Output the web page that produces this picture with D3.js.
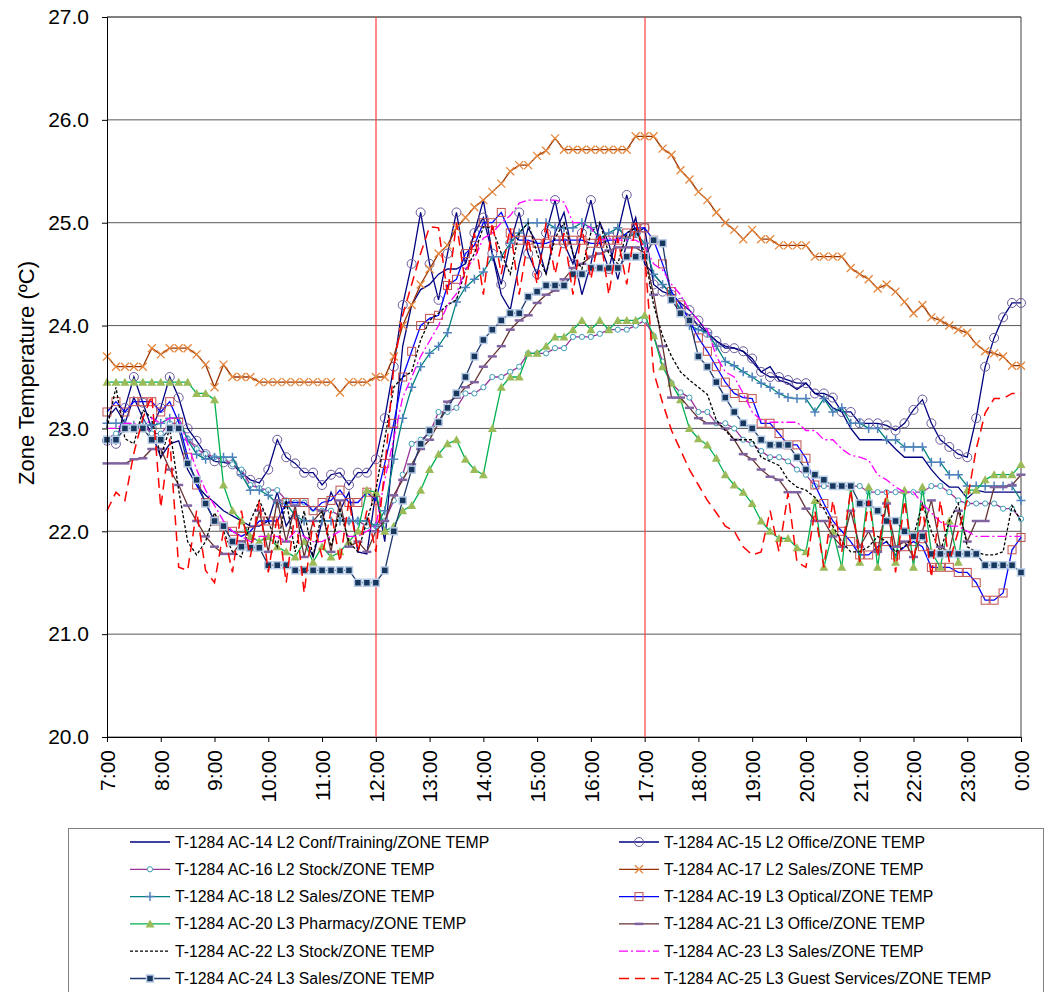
<!DOCTYPE html>
<html>
<head>
<meta charset="utf-8">
<script src="https://cdn.jsdelivr.net/npm/d3@7"></script>
<style>
  body { margin: 0; background: #fff; }
  text { font-family: "Liberation Sans", Arial, sans-serif; fill: #000; }
</style>
</head>
<body>
<svg id="chart" width="1048" height="992"></svg>
<script>
// readings every 10 minutes, 7:00 -> 0:00
const times = d3.range(103).map(i => 420 + i * 10)
const hourTicks = d3.range(7, 25).map(h => h * 60)
const tickLabels = ["7:00","8:00","9:00","10:00","11:00","12:00","13:00","14:00","15:00",
  "16:00","17:00","18:00","19:00","20:00","21:00","22:00","23:00","0:00"]
const yTicks = [20, 21, 22, 23, 24, 25, 26, 27]
const refTimes = [720, 1020]

const ac14 = [23.1,23.2,23.05,23.3,23.1,22.95,22.72,22.85,22.88,22.6,
  22.45,22.35,22.28,22.2,22.15,22.1,22.05,22.05,22.1,22.38,
  22.05,22.2,21.95,21.75,22.1,22.38,22.2,22.38,21.8,21.78,
  22.38,21.9,22.9,23.8,24.2,24.35,24.4,24.5,24.55,24.55,
  24.6,24.9,25.22,24.7,24.3,24.15,24.6,24.95,24.8,24.5,
  24.9,25.1,24.7,24.3,24.6,25.0,24.8,24.45,24.8,25.05,
  24.6,24.5,24.4,24.3,24.15,24.1,24.0,23.93,23.85,23.8,
  23.78,23.75,23.65,23.55,23.6,23.47,23.44,23.38,23.44,23.34,
  23.3,23.2,23.16,23.0,22.89,22.89,22.89,22.89,22.8,22.72,
  22.72,22.72,22.6,22.5,22.43,22.43,22.32,22.4,22.38,22.38,
  22.38,22.38,22.38]
const ac15 = [22.88,22.85,23.2,23.5,23.25,23.0,23.2,23.5,23.3,23.0,
  22.88,22.75,22.68,22.67,22.65,22.57,22.5,22.47,22.6,22.89,
  22.72,22.66,22.57,22.57,22.45,22.55,22.57,22.45,22.57,22.57,
  22.7,23.1,23.6,24.2,24.6,25.1,24.6,24.25,24.7,25.1,
  24.6,24.9,25.05,24.7,24.4,24.8,25.1,24.7,24.5,24.9,
  25.22,24.8,24.6,24.9,25.22,24.8,24.55,24.9,25.27,24.9,
  24.95,24.4,24.33,24.3,24.22,24.15,24.05,23.93,23.85,23.78,
  23.78,23.75,23.68,23.55,23.5,23.5,23.47,23.44,23.44,23.34,
  23.34,23.3,23.16,23.16,23.05,23.05,23.05,23.03,22.98,23.05,
  23.18,23.28,23.05,22.89,22.82,22.75,22.72,23.1,23.6,23.88,
  24.08,24.22,24.22]
const ac16 = [22.9,22.95,23.0,23.0,23.05,22.95,22.95,23.05,23.05,22.9,
  22.8,22.75,22.72,22.7,22.65,22.6,22.45,22.42,22.4,22.4,
  22.3,22.28,22.28,22.22,22.2,22.2,22.15,22.1,22.1,22.05,
  22.05,22.1,22.3,22.55,22.85,22.89,22.95,23.16,23.16,23.2,
  23.34,23.34,23.4,23.5,23.5,23.55,23.6,23.73,23.73,23.73,
  23.78,23.78,23.89,23.89,23.89,23.92,23.96,23.96,23.96,24.0,
  24.05,23.9,23.65,23.44,23.35,23.3,23.16,23.16,23.05,23.05,
  23.0,22.89,22.85,22.78,22.72,22.72,22.68,22.6,22.55,22.44,
  22.44,22.44,22.44,22.44,22.44,22.38,22.38,22.38,22.38,22.38,
  22.38,22.38,22.44,22.44,22.38,22.3,22.27,22.27,22.27,22.27,
  22.22,22.22,22.12]
const ac17 = [23.7,23.6,23.6,23.6,23.6,23.78,23.72,23.78,23.78,23.78,
  23.72,23.62,23.4,23.62,23.5,23.5,23.5,23.45,23.45,23.45,
  23.45,23.45,23.45,23.45,23.45,23.45,23.35,23.45,23.45,23.45,
  23.5,23.5,23.7,24.0,24.2,24.4,24.55,24.7,24.78,24.95,
  25.05,25.15,25.22,25.3,25.38,25.5,25.56,25.56,25.65,25.7,
  25.82,25.71,25.71,25.71,25.71,25.71,25.71,25.71,25.71,25.84,
  25.84,25.84,25.72,25.66,25.51,25.42,25.3,25.22,25.1,25.0,
  24.93,24.84,24.93,24.84,24.84,24.78,24.78,24.78,24.78,24.67,
  24.67,24.67,24.67,24.56,24.5,24.45,24.36,24.4,24.33,24.23,
  24.12,24.2,24.08,24.05,24.0,23.96,23.93,23.82,23.75,23.73,
  23.7,23.61,23.61]
const ac18 = [23.05,23.05,23.05,23.03,23.03,23.03,23.05,23.1,23.1,22.89,
  22.75,22.7,22.72,22.72,22.72,22.55,22.4,22.4,22.35,22.27,
  22.27,22.15,22.1,22.1,22.1,22.1,22.1,22.1,22.1,22.1,
  22.05,22.2,22.7,23.1,23.4,23.6,23.73,23.8,23.93,24.23,
  24.37,24.45,24.52,24.67,24.67,24.8,24.9,25.0,25.0,25.0,
  24.95,24.95,24.95,25.0,24.95,24.85,24.9,24.95,24.85,24.9,
  24.8,24.5,24.4,24.3,24.15,24.0,23.96,23.93,23.8,23.65,
  23.61,23.55,23.5,23.44,23.4,23.34,23.3,23.29,23.29,23.16,
  23.29,23.16,23.2,23.05,23.05,23.0,23.0,22.89,22.89,22.82,
  22.82,22.82,22.67,22.67,22.55,22.55,22.44,22.44,22.44,22.44,
  22.44,22.44,22.3]
const ac19 = [23.16,23.26,23.16,23.26,23.26,23.26,23.16,23.26,23.06,22.72,
  22.45,22.28,22.1,22.05,22.0,21.95,22.0,22.1,22.1,22.1,
  22.28,22.28,22.28,22.2,22.28,22.3,22.4,22.28,22.28,22.38,
  22.3,22.66,23.05,23.5,23.75,24.0,24.07,24.1,24.39,24.45,
  24.7,24.78,25.0,25.0,25.1,24.9,24.83,24.83,24.8,24.8,
  24.83,24.83,24.83,24.83,24.8,24.8,24.83,24.83,24.9,24.95,
  24.95,24.83,24.6,24.33,24.2,24.05,23.88,23.75,23.6,23.45,
  23.34,23.3,23.29,23.05,23.05,22.95,22.84,22.84,22.71,22.45,
  22.27,22.1,22.0,21.9,21.77,21.77,21.85,21.9,21.77,21.85,
  21.9,21.85,21.65,21.65,21.65,21.6,21.6,21.5,21.33,21.33,
  21.4,21.82,21.94]
const ac20 = [23.45,23.45,23.45,23.45,23.45,23.45,23.45,23.45,23.45,23.45,
  23.34,23.34,23.28,22.45,22.2,22.1,21.95,21.9,21.95,21.85,
  21.8,21.75,21.9,21.7,21.85,21.75,21.8,21.9,22.0,22.4,
  22.38,22.0,22.05,22.2,22.25,22.4,22.6,22.75,22.85,22.89,
  22.7,22.6,22.55,23.0,23.4,23.5,23.5,23.73,23.73,23.8,
  23.89,23.89,23.96,24.05,23.96,24.05,23.96,24.05,24.05,24.05,
  24.1,23.9,23.6,23.44,23.28,23.0,22.9,22.84,22.71,22.55,
  22.45,22.38,22.27,22.1,22.0,21.93,21.93,21.84,21.8,22.3,
  21.65,22.0,21.65,22.43,21.7,22.43,21.65,22.3,21.7,22.4,
  21.65,22.43,21.8,21.65,22.1,21.7,22.4,22.4,22.5,22.55,
  22.55,22.55,22.65]
const ac21 = [22.66,22.66,22.66,22.7,22.71,22.8,22.8,22.6,22.45,22.25,
  22.1,21.95,21.85,21.78,21.78,21.9,21.85,22.2,21.8,22.3,
  21.9,22.25,21.75,22.1,22.2,21.8,22.3,21.85,21.9,21.8,
  22.0,22.1,22.35,22.5,22.65,22.8,22.89,23.05,23.26,23.3,
  23.4,23.45,23.6,23.7,23.8,23.96,24.05,24.1,24.22,24.3,
  24.34,24.45,24.56,24.6,24.67,24.7,24.73,24.76,24.76,24.76,
  24.7,24.3,23.8,23.3,23.3,23.2,23.1,23.05,23.05,23.0,
  22.89,22.75,22.7,22.6,22.53,22.5,22.38,22.38,22.22,22.1,
  22.1,21.95,21.85,22.2,21.85,22.0,21.8,22.27,21.85,21.9,
  21.75,22.0,22.3,21.85,21.8,22.2,21.9,22.1,22.1,22.43,
  22.43,22.45,22.55]
const ac22 = [23.0,23.4,22.9,22.85,23.18,23.1,22.72,23.0,22.4,21.9,
  21.77,21.9,22.18,22.0,21.8,21.75,22.1,22.3,22.1,21.85,
  22.3,21.8,22.2,21.75,22.2,21.85,22.2,21.9,21.8,22.1,
  22.4,22.9,23.4,23.5,23.55,23.86,24.05,24.12,24.2,24.25,
  24.54,24.7,24.96,24.95,24.7,24.5,24.9,25.0,24.7,24.5,
  24.85,25.0,24.7,24.55,24.9,25.0,24.7,24.6,24.9,24.95,
  24.7,24.2,23.9,23.7,23.55,23.47,23.4,23.33,23.08,22.98,
  22.89,22.89,22.89,22.72,22.68,22.64,22.5,22.43,22.4,22.33,
  22.22,22.05,21.9,21.8,21.8,21.85,21.95,21.9,21.8,21.85,
  21.95,22.27,22.0,21.8,22.1,22.27,21.85,21.8,21.77,21.77,
  21.8,22.25,22.1]
const ac23 = [23.0,23.0,23.05,23.05,23.0,23.1,23.05,23.1,23.1,22.85,
  22.6,22.4,22.25,22.1,22.0,21.95,21.9,21.95,21.95,21.95,
  21.9,22.0,21.95,21.9,21.9,21.95,22.0,21.95,21.95,22.0,
  22.05,22.5,22.9,23.3,23.5,23.7,23.85,24.0,24.2,24.31,
  24.55,24.65,24.85,24.9,25.0,25.07,25.19,25.22,25.22,25.22,
  25.22,25.2,25.0,25.0,24.95,24.83,24.85,24.83,24.83,24.83,
  24.78,24.6,24.54,24.4,24.3,24.15,24.05,23.96,23.7,23.55,
  23.5,23.34,23.16,23.08,23.06,23.06,23.06,23.06,22.98,22.98,
  22.89,22.89,22.8,22.74,22.72,22.69,22.55,22.5,22.43,22.38,
  22.38,22.27,22.18,22.09,22.05,22.05,22.0,21.95,21.95,21.95,
  21.95,21.95,21.95]
const ac24 = [22.89,22.89,23.0,23.0,23.0,22.89,22.89,23.0,23.0,22.66,
  22.5,22.27,22.1,22.05,21.9,21.85,21.84,21.84,21.67,21.67,
  21.67,21.62,21.62,21.62,21.62,21.62,21.62,21.62,21.5,21.5,
  21.5,21.62,22.0,22.3,22.6,22.85,22.98,23.06,23.2,23.34,
  23.5,23.7,23.86,23.96,24.05,24.12,24.12,24.28,24.33,24.39,
  24.39,24.39,24.5,24.5,24.56,24.56,24.56,24.56,24.67,24.67,
  24.67,24.83,24.8,24.25,24.12,24.05,23.7,23.6,23.45,23.3,
  23.16,23.05,23.0,22.89,22.84,22.84,22.84,22.72,22.6,22.55,
  22.5,22.44,22.44,22.44,22.27,22.27,22.2,22.1,22.1,22.0,
  21.95,21.95,21.78,21.78,21.78,21.78,21.78,21.78,21.67,21.67,
  21.67,21.67,21.6]
const ac25 = [22.2,22.38,22.3,22.76,23.1,23.32,22.23,22.9,21.65,21.62,
  22.2,21.62,21.5,22.0,21.6,22.2,21.75,22.3,21.6,22.15,
  21.5,22.2,21.4,22.1,21.75,22.2,21.7,22.3,21.8,22.2,
  21.8,22.6,23.6,24.1,24.4,24.7,24.96,24.95,24.3,25.0,
  24.4,24.9,24.3,25.0,24.5,24.95,24.3,24.85,24.4,25.0,
  24.5,24.9,24.3,24.95,24.45,24.9,24.3,24.85,24.4,25.0,
  24.7,23.55,23.25,22.98,22.79,22.6,22.45,22.3,22.18,22.05,
  22.0,21.85,21.77,21.8,22.2,21.8,22.37,21.7,21.65,22.2,
  21.65,22.3,21.8,22.4,21.7,22.3,21.75,22.4,21.6,22.3,
  21.7,22.25,21.55,22.3,21.7,22.0,22.3,22.8,23.15,23.29,
  23.29,23.34,23.34]

const seriesNames = [
  "T-1284 AC-14 L2 Conf/Training/ZONE TEMP", "T-1284 AC-15 L2 Office/ZONE TEMP",
  "T-1284 AC-16 L2 Stock/ZONE TEMP", "T-1284 AC-17 L2 Sales/ZONE TEMP",
  "T-1284 AC-18 L2 Sales/ZONE TEMP", "T-1284 AC-19 L3 Optical/ZONE TEMP",
  "T-1284 AC-20 L3 Pharmacy/ZONE TEMP", "T-1284 AC-21 L3 Office/ZONE TEMP",
  "T-1284 AC-22 L3 Stock/ZONE TEMP", "T-1284 AC-23 L3 Sales/ZONE TEMP",
  "T-1284 AC-24 L3 Sales/ZONE TEMP", "T-1284 AC-25 L3 Guest Services/ZONE TEMP"
]
const seriesValues = [ac14, ac15, ac16, ac17, ac18, ac19, ac20, ac21, ac22, ac23, ac24, ac25]

// how each series looks
const looks = [
  {stroke: "#000080", marker: null},
  {stroke: "#000080", marker: "ring"},
  {stroke: "#993399", marker: "dot"},
  {stroke: "#993300", marker: "times"},
  {stroke: "#008080", marker: "plus"},
  {stroke: "#0000ff", marker: "box"},
  {stroke: "#00b050", marker: "tri"},
  {stroke: "#663333", marker: "dash"},
  {stroke: "#000000", marker: null, dash: "3,2"},
  {stroke: "#ff00ff", marker: null, dash: "9,3,2,3"},
  {stroke: "#1f3a6e", marker: "block"},
  {stroke: "#ff0000", marker: null, dash: "10,6", width: 1.5}
]

const svg = d3.select("#chart")
const plot = {left: 107, right: 1021, top: 17, bottom: 737}

const x = d3.scaleLinear().domain([420, 1440]).range([plot.left, plot.right])
const y = d3.scaleLinear().domain([20, 27]).range([plot.bottom, plot.top])

// grid
svg.append("g")
  .selectAll("line")
  .data(yTicks)
  .enter()
  .append("line")
  .attr("x1", plot.left).attr("x2", plot.right)
  .attr("y1", d => y(d)).attr("y2", d => y(d))
  .style("stroke", d => d === 27 ? "#000" : "#595959")
  .style("stroke-width", 1)

svg.append("line")
  .attr("x1", plot.right).attr("x2", plot.right)
  .attr("y1", plot.top).attr("y2", plot.bottom)
  .style("stroke", "#404040")

// red markers at noon and 17:00
svg.append("g")
  .selectAll("line")
  .data(refTimes)
  .enter()
  .append("line")
  .attr("x1", d => Math.round(x(d))).attr("x2", d => Math.round(x(d)))
  .attr("y1", plot.top).attr("y2", plot.bottom)
  .style("stroke", "#ff4040")
  .style("stroke-width", 2)
  .style("opacity", 0.6)

const drawMarker = (g, type, cx, cy) => {
  if (type === "ring") {
    g.append("circle").attr("cx", cx).attr("cy", cy).attr("r", 4.5)
      .style("fill", "none").style("stroke", "#6b5b9a").style("stroke-width", 1)
  } else if (type === "dot") {
    g.append("circle").attr("cx", cx).attr("cy", cy).attr("r", 2.6)
      .style("fill", "#fff").style("stroke", "#3b9db5").style("stroke-width", 1)
  } else if (type === "times") {
    g.append("path").attr("d", `M${cx-4},${cy-4}L${cx+4},${cy+4}M${cx-4},${cy+4}L${cx+4},${cy-4}`)
      .style("stroke", "#e5873c").style("stroke-width", 1.3)
  } else if (type === "plus") {
    g.append("path").attr("d", `M${cx-4.5},${cy}H${cx+4.5}M${cx},${cy-4.5}V${cy+4.5}`)
      .style("stroke", "#4f81bd").style("stroke-width", 1.5)
  } else if (type === "box") {
    g.append("rect").attr("x", cx - 4).attr("y", cy - 4).attr("width", 8).attr("height", 8)
      .style("fill", "none").style("stroke", "#c0504d").style("stroke-width", 1)
  } else if (type === "tri") {
    g.append("path").attr("d", `M${cx},${cy-4.5}L${cx+4.5},${cy+3.5}L${cx-4.5},${cy+3.5}Z`)
      .style("fill", "#9bbb59")
  } else if (type === "dash") {
    g.append("path").attr("d", `M${cx-4.5},${cy}H${cx+4.5}`)
      .style("stroke", "#8064a2").style("stroke-width", 2.5)
  } else if (type === "block") {
    g.append("rect").attr("x", cx - 3.5).attr("y", cy - 3.5).attr("width", 7).attr("height", 7)
      .style("fill", "#17375e").style("stroke", "#b9cde5").style("stroke-width", 1.5)
  }
}

const line = d3.line().x((d, i) => x(times[i])).y(d => y(d))

seriesValues.forEach((vals, k) => {
  const look = looks[k]
  const g = svg.append("g")
  g.append("path")
    .attr("d", line(vals))
    .style("fill", "none")
    .style("stroke", look.stroke)
    .style("stroke-width", look.width || 1.3)
    .style("stroke-dasharray", look.dash || null)
  if (look.marker) vals.forEach((v, i) => drawMarker(g, look.marker, x(times[i]), y(v)))
})

// axes
const yAxis = svg.append("g")
  .attr("transform", `translate(${plot.left},0)`)
  .call(d3.axisLeft(y).tickValues(yTicks).tickFormat(d3.format(".1f")).tickSize(5).tickPadding(13))
yAxis.select(".domain").style("stroke", "#000")
yAxis.selectAll("text").attr("font-size", 21).style("font-family", "Liberation Sans, Arial, sans-serif")

const xAxis = svg.append("g")
  .attr("transform", `translate(0,${plot.bottom})`)
  .call(d3.axisBottom(x).tickValues(hourTicks).tickFormat((d, i) => tickLabels[i]).tickSize(5))
xAxis.select(".domain").style("stroke", "#000")
xAxis.selectAll("text")
  .attr("transform", "rotate(-90)")
  .attr("text-anchor", "end")
  .attr("x", -13)
  .attr("y", 0)
  .attr("dy", "0.35em")
  .attr("font-size", 21)
  .style("font-family", "Liberation Sans, Arial, sans-serif")

svg.append("text")
  .attr("transform", `translate(34,${(plot.top + plot.bottom) / 2 - 4}) rotate(-90)`)
  .attr("text-anchor", "middle")
  .attr("font-size", 22)
  .text("Zone Temperature (ºC)")

// legend
svg.append("rect")
  .attr("x", 68.5).attr("y", 828.5)
  .attr("width", 975).attr("height", 180)
  .style("fill", "none").style("stroke", "#808080")

seriesNames.forEach((name, k) => {
  const col = k % 2, row = Math.floor(k / 2)
  const lx = col === 0 ? 130 : 619
  const ly = 842 + row * 27.3
  const look = looks[k]
  const g = svg.append("g")
  g.append("line")
    .attr("x1", lx).attr("x2", lx + 40)
    .attr("y1", ly).attr("y2", ly)
    .style("stroke", look.stroke)
    .style("stroke-width", look.width || 1.3)
    .style("stroke-dasharray", look.dash || null)
  if (look.marker) drawMarker(g, look.marker, lx + 20, ly)
  g.append("text")
    .attr("x", lx + 45).attr("y", ly)
    .attr("dy", "0.35em")
    .attr("font-size", 15.8)
    .text(name)
})
</script>
</body>
</html>
